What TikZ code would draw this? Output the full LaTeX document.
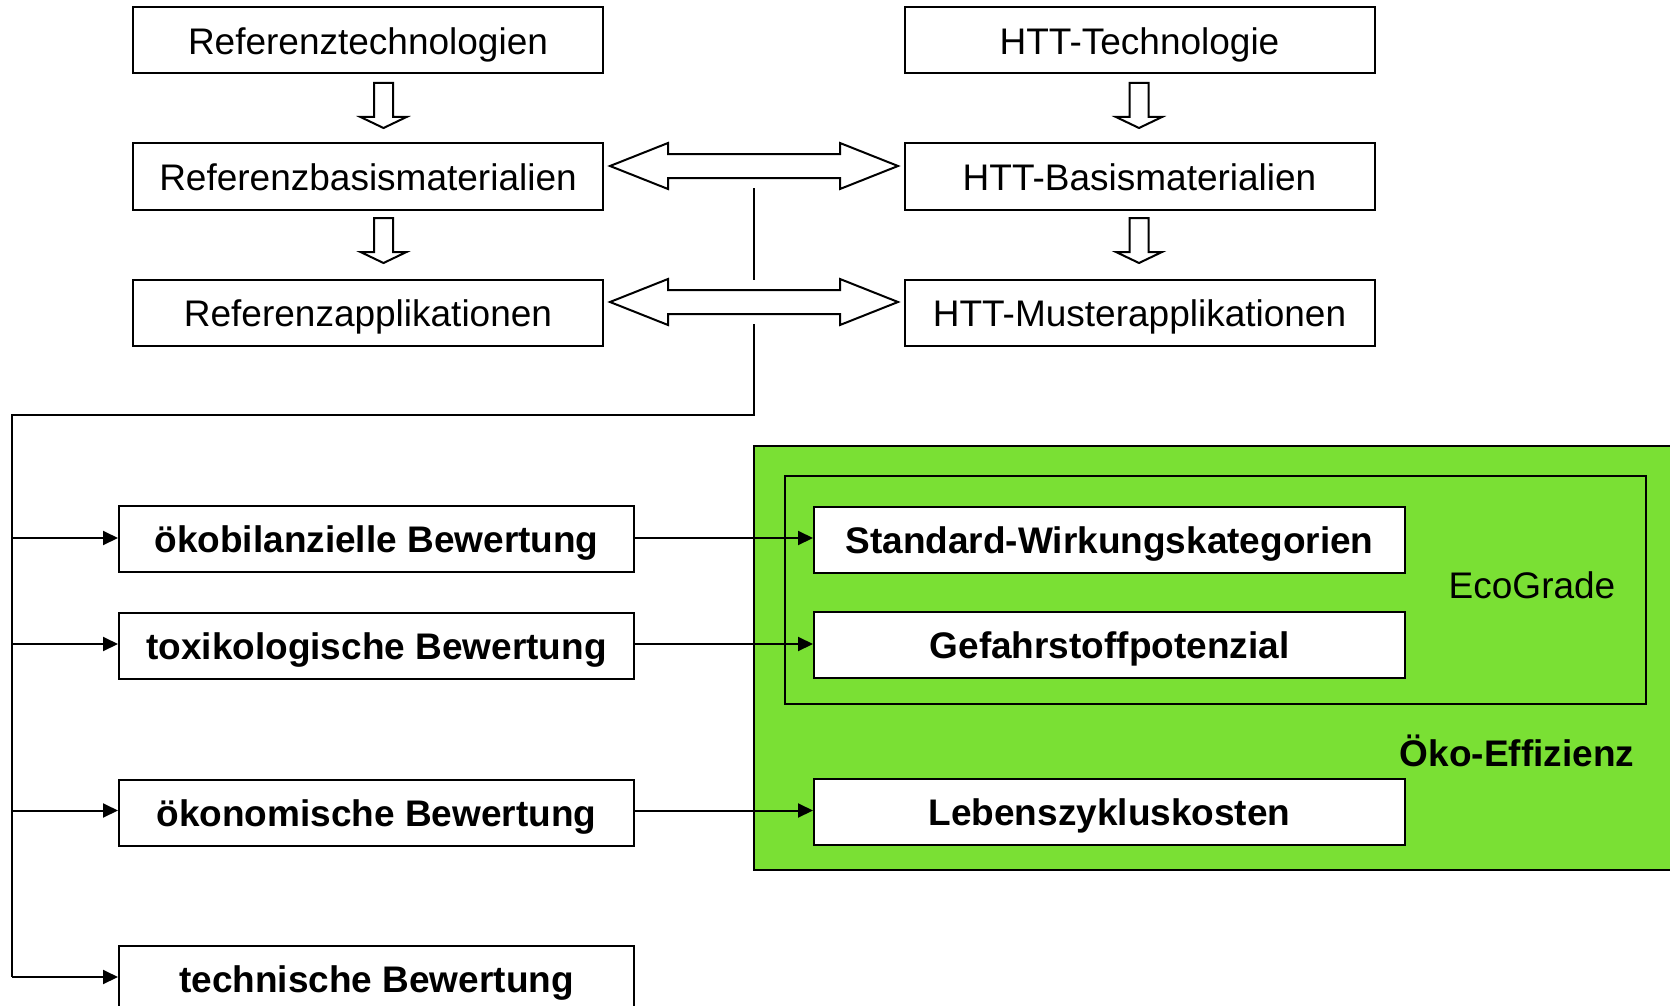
\documentclass[tikz,border=0pt]{standalone}
\usepackage{fontspec}
\setmainfont{Liberation Sans}
\usetikzlibrary{arrows.meta}
\definecolor{ecogreen}{RGB}{122,224,52}
\begin{document}
\begin{tikzpicture}[x=0.5pt,y=-0.5pt,
  box/.style={draw, line width=1pt, fill=white, inner sep=0pt, minimum height=33pt, text height=14pt, text depth=0.4pt, font=\fontsize{18.5}{22}\selectfont},
  topbox/.style={box, minimum width=235pt},
  evalbox/.style={box, minimum width=257.5pt, font=\fontsize{18.5}{22}\selectfont\bfseries},
  resbox/.style={box, minimum width=295.5pt, font=\fontsize{18.5}{22}\selectfont\bfseries},
  conn/.style={line width=1pt, -{Triangle[length=7.5pt,width=7pt]}},
  plain/.style={line width=1pt},
  hollow/.style={draw, line width=1pt, fill=white, line join=miter},
  lbl/.style={inner sep=0pt, font=\fontsize{18.5}{22}\selectfont},
  hollowdown/.pic={\path[hollow] (-9.5,0) -- (9.5,0) -- (9.5,34) -- (23,34) -- (0,45) -- (-23,34) -- (-9.5,34) -- cycle;},
  hollowdouble/.pic={\path[hollow] (-144,0) -- (-86,-23) -- (-86,-12) -- (86,-12) -- (86,-23) -- (144,0) -- (86,23) -- (86,12) -- (-86,12) -- (-86,23) -- cycle;},
]
\useasboundingbox (0,0) rectangle (1670,1006);

% green region
\path[fill=ecogreen, draw=black, line width=1pt] (754,446) rectangle (1700,870);
\draw[plain] (784.5,476) rectangle (1646,703.5);

% top boxes
\node[topbox] (rt) at (368,40.5) {Referenztechnologien};
\node[topbox] (ht) at (1139.5,40.5) {HTT-Technologie};
\node[topbox] (rb) at (368,176.5) {Referenzbasismaterialien};
\node[topbox] (hb) at (1139.5,176.5) {HTT-Basismaterialien};
\node[topbox] (ra) at (368,312.5) {Referenzapplikationen};
\node[topbox] (hm) at (1139.5,312.5) {HTT-Musterapplikationen};

% hollow arrows
\pic at (383.5,83) {hollowdown};
\pic at (1139,83) {hollowdown};
\pic at (383.5,218) {hollowdown};
\pic at (1139,218) {hollowdown};
\pic at (754,166) {hollowdouble};
\pic at (754,302) {hollowdouble};

% evaluation boxes
\node[evalbox] (oeko) at (376.5,539) {ökobilanzielle Bewertung};
\node[evalbox] (tox) at (376.5,645.5) {toxikologische Bewertung};
\node[evalbox] (oekon) at (376.5,812.5) {ökonomische Bewertung};
\node[evalbox] (tech) at (376.5,979) {technische Bewertung};

% result boxes
\node[resbox] (sw) at (1109.5,539.5) {Standard-Wirkungskategorien};
\node[resbox] (gp) at (1109.5,645) {Gefahrstoffpotenzial};
\node[resbox] (lz) at (1109.5,811.5) {Lebenszykluskosten};

\node[lbl] (ecog) at (1532,585) {EcoGrade};
\node[lbl, font=\fontsize{18.5}{22}\selectfont\bfseries] (oeff) at (1517,751) {Öko-Effizienz};

% connector lines
\coordinate (v1) at (754,188);
\coordinate (v2) at (754,280);
\coordinate (v3) at (754,324);
\coordinate (corner) at (754,415);
\coordinate (lcorner) at (12,415);
\coordinate (l1) at (12,538);
\coordinate (l2) at (12,644);
\coordinate (l3) at (12,810.5);
\coordinate (l4) at (12,977);
\draw[plain] (v1) -- (v2);
\draw[plain] (v3) -- (corner) -- (lcorner) -- (l4);
\draw[conn] (l1) -- (l1 -| oeko.west);
\draw[conn] (l2) -- (l2 -| tox.west);
\draw[conn] (l3) -- (l3 -| oekon.west);
\draw[conn] (l4) -- (l4 -| tech.west);
\draw[conn] (l1 -| oeko.east) -- (l1 -| sw.west);
\draw[conn] (l2 -| tox.east) -- (l2 -| gp.west);
\draw[conn] (l3 -| oekon.east) -- (l3 -| lz.west);
\end{tikzpicture}
\end{document}
